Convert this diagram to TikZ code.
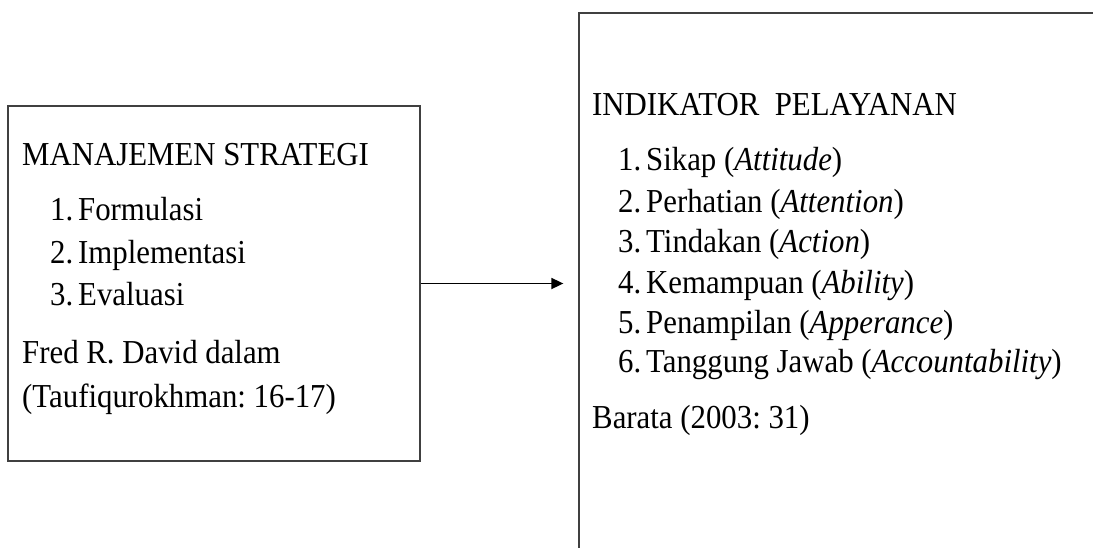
\documentclass[tikz,border=0pt]{standalone}
\usepackage{fontspec}
\setmainfont{Liberation Serif}[FakeStretch=0.92]
\usetikzlibrary{arrows.meta}
\frenchspacing
\newcommand{\itm}[2]{\makebox[28pt][l]{#1}#2}
\begin{document}
\begin{tikzpicture}[x=1pt,y=-1pt,
  box/.style={draw=black!75, line width=1.3pt, inner sep=0pt},
  txt/.style={anchor=base west, inner sep=0pt, font=\fontsize{33.5}{40}\selectfont},
  conn/.style={-{Triangle[length=12pt,width=11pt]}, line width=1.8pt, black}]
\clip (0,0) rectangle (1093,547);
\fill[white] (0,0) rectangle (1093,547);
% boxes
\node[box, minimum width=412pt, minimum height=355pt] (strat) at (214,283.5) {};
\node[box, minimum width=540pt, minimum height=541pt] (ind) at (849,283.5) {};
% left texts
\node[txt] (s0) at (22,165) {MANAJEMEN STRATEGI};
\node[txt] (s1) at (50,220) {\itm{1.}{Formulasi}};
\node[txt] (s2) at (50,263) {\itm{2.}{Implementasi}};
\node[txt] (s3) at (50,305) {\itm{3.}{Evaluasi}};
\node[txt] (s4) at (22,363) {Fred R. David dalam};
\node[txt] (s5) at (22,407) {(Taufiqurokhman: 16-17)};
% right texts
\node[txt] (i0) at (592,115) {INDIKATOR\ \ PELAYANAN};
\node[txt] (i1) at (618,170) {\itm{1.}{Sikap (\textit{Attitude})}};
\node[txt] (i2) at (618,212) {\itm{2.}{Perhatian (\textit{Attention})}};
\node[txt] (i3) at (618,252) {\itm{3.}{Tindakan (\textit{Action})}};
\node[txt] (i4) at (618,293) {\itm{4.}{Kemampuan (\textit{Ability})}};
\node[txt] (i5) at (618,333) {\itm{5.}{Penampilan (\textit{Apperance})}};
\node[txt] (i6) at (618,372) {\itm{6.}{Tanggung Jawab (\textit{Accountability})}};
\node[txt] (i7) at (592,428) {Barata (2003: 31)};
% connector
\draw[conn, shorten >=15pt] (strat.east) -- (ind.west);
\end{tikzpicture}
\end{document}
